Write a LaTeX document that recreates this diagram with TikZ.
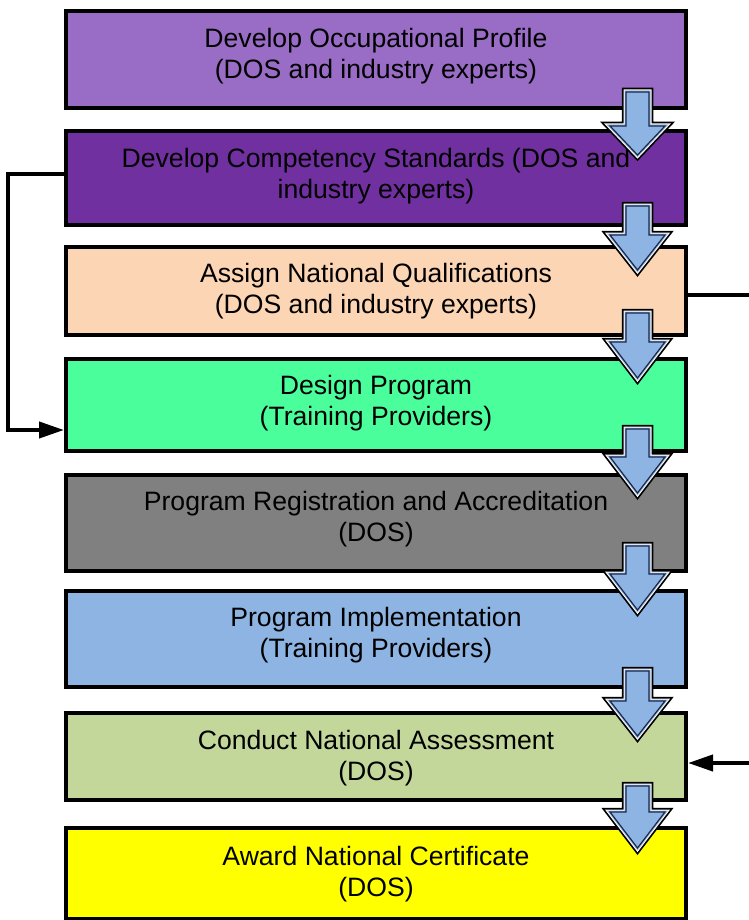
\documentclass[tikz,border=0pt]{standalone}
\usepackage{fontspec}
\setmainfont{Liberation Sans}
\usetikzlibrary{arrows.meta}
\definecolor{c1}{RGB}{153,108,198}
\definecolor{c2}{RGB}{112,48,160}
\definecolor{c3}{RGB}{252,213,180}
\definecolor{c4}{RGB}{74,255,155}
\definecolor{c5}{RGB}{128,128,128}
\definecolor{c6}{RGB}{141,180,226}
\definecolor{c7}{RGB}{196,215,155}
\definecolor{c8}{RGB}{255,255,0}
\definecolor{arrblue}{RGB}{141,180,226}
\definecolor{arrnavy}{RGB}{23,40,80}
\definecolor{arrlight}{RGB}{160,185,215}
\tikzset{
  box/.style={draw=black,line width=4pt,minimum width=620pt,inner sep=0pt},
  txt/.style={align=center,font=\fontsize{26.6pt}{31pt}\selectfont,inner sep=0pt},
  conn/.style={draw=black,line width=4pt},
  arrA/.style={draw=black,line width=8.5pt,line join=miter},
  arrB/.style={draw=white,line width=5pt,line join=miter},
  arrC/.style={draw=arrlight,line width=3pt,line join=miter},
  arrD/.style={draw=arrnavy,fill=arrblue,line width=1.2pt,line join=miter},
}
\newcommand{\blockarr}[3]{%
  \foreach \s in {arrA,arrB,arrC,arrD}{%
    \draw[\s] (626,#1+4) -- (649,#1+4) -- (649,#2+4) -- (665,#2+4) -- (637.5,#3-7) -- (610,#2+4) -- (626,#2+4) -- cycle;}%
}
\begin{document}
\begin{tikzpicture}[x=1pt,y=-1pt]
\useasboundingbox (0,0) rectangle (748,920);
\node[box,fill=c1,minimum height=97pt] (b1) at (376,59.5) {};
\node[box,fill=c2,minimum height=94pt] (b2) at (376,178) {};
\node[box,fill=c3,minimum height=88pt] (b3) at (376,291) {};
\node[box,fill=c4,minimum height=92pt] (b4) at (376,405) {};
\node[box,fill=c5,minimum height=96pt] (b5) at (376,523) {};
\node[box,fill=c6,minimum height=96pt] (b6) at (376,639) {};
\node[box,fill=c7,minimum height=87pt] (b7) at (376,756.5) {};
\node[box,fill=c8,minimum height=91pt] (b8) at (376,873.5) {};
\node[txt] (t1) at (376,56.5) {Develop Occupational Profile\\(DOS and industry experts)};
\node[txt] (t2) at (376,176) {Develop Competency Standards (DOS and\\industry experts)};
\node[txt] (t3) at (376,291.5) {Assign National Qualifications\\(DOS and industry experts)};
\node[txt] (t4) at (376,403.5) {Design Program\\(Training Providers)};
\node[txt] (t5) at (376,519.5) {Program Registration and Accreditation\\(DOS)};
\node[txt] (t6) at (376,635.5) {Program Implementation\\(Training Providers)};
\node[txt] (t7) at (376,758.5) {Conduct National Assessment\\(DOS)};
\node[txt] (t8) at (376,874.5) {Award National Certificate\\(DOS)};
\blockarr{88}{122}{162}
\blockarr{202}{231}{277}
\blockarr{309}{338}{385}
\blockarr{425}{453}{500}
\blockarr{542}{570}{617}
\blockarr{667}{697}{743}
\blockarr{782}{808}{855}
\coordinate (l1) at (8,174);
\coordinate (l2) at (8,430);
\coordinate (r1) at (752,295);
\coordinate (r2) at (752,763);
\draw[conn,-{Triangle[length=25pt,width=16pt]}] (b2.west |- l1) -- (l1) -- (l2) -- (b4.west |- l2);
\draw[conn] (b3.east |- r1) -- (r1);
\draw[conn,-{Triangle[length=25pt,width=16pt]}] (r2) -- (b7.east |- r2);
\end{tikzpicture}
\end{document}
